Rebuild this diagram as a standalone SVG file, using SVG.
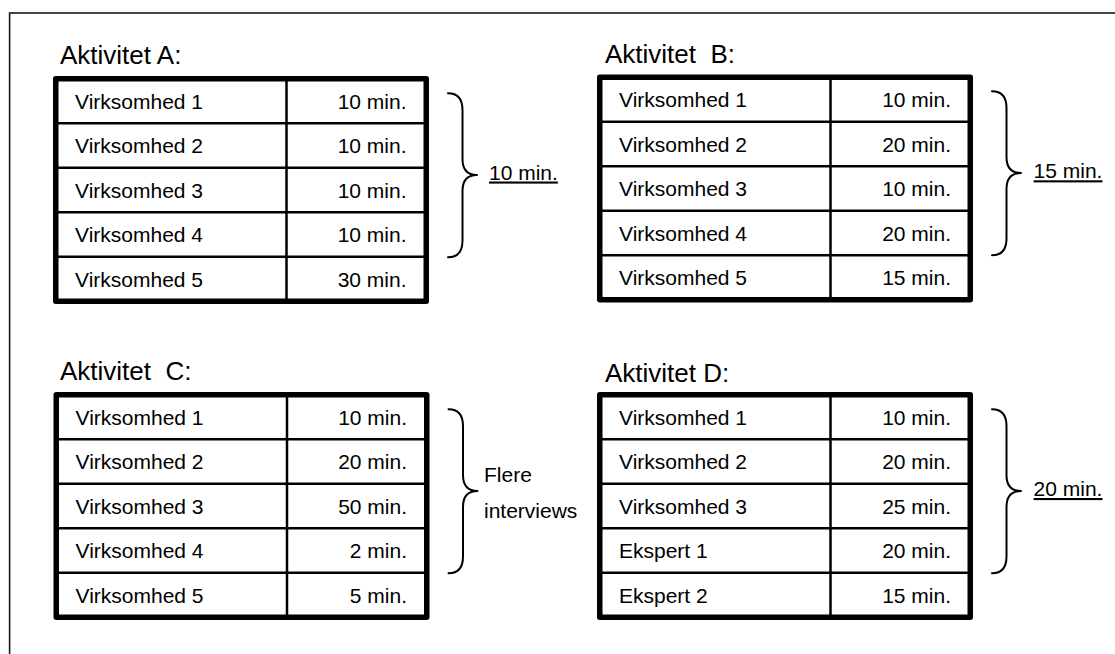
<svg xmlns="http://www.w3.org/2000/svg" width="1115" height="654" viewBox="0 0 1115 654">
  <defs>
    <style>
      text { font-family: "Liberation Sans", Arial, Helvetica, sans-serif; fill: #000; white-space: pre; }
      .title { font-size: 26px; }
      .cell { font-size: 21px; }
      .num { font-size: 21px; text-anchor: end; }
      .note { font-size: 21px; }
      .sum { font-size: 21px; text-decoration: underline; }
      .frame { fill: none; stroke: #1a1a1a; stroke-width: 1.6; }
      .outer { fill: #fff; stroke: #000; stroke-width: 5.5; stroke-linejoin: round; }
      .grid { stroke: #000; stroke-width: 2.5; fill: none; }
      .brace { fill: none; stroke: #000; stroke-width: 2; stroke-linecap: round; stroke-linejoin: round; }
    </style>
    <!-- empty 5-row, 2-column table frame, 376 x 228 -->
    <g id="tableFrame">
      <rect class="outer" x="2.75" y="2.75" width="370.5" height="222.5"/>
      <path class="grid" d="M233.5,2.75 V225.25 M2.75,47.25 H373.25 M2.75,91.75 H373.25 M2.75,136.25 H373.25 M2.75,180.75 H373.25"/>
    </g>
    <!-- right-hand curly brace spanning the first four rows -->
    <path id="braceShape" class="brace" d="M395,17.3 Q409.5,17.3 409.5,34 L409.5,83 Q409.5,99 424,99 Q409.5,99 409.5,115 L409.5,164.5 Q409.5,181.3 395,181.3"/>
  </defs>

  <rect class="frame" x="9.6" y="13" width="1200" height="700"/>

  <!-- Aktivitet A -->
  <g id="aktivitet-a">
    <text class="title" x="60" y="64">Aktivitet A:</text>
    <g transform="translate(53,76)">
      <use href="#tableFrame"/>
      <text class="cell" x="22" y="32.5">Virksomhed 1</text>
      <text class="cell" x="22" y="77">Virksomhed 2</text>
      <text class="cell" x="22" y="121.5">Virksomhed 3</text>
      <text class="cell" x="22" y="166">Virksomhed 4</text>
      <text class="cell" x="22" y="210.5">Virksomhed 5</text>
      <text class="num" x="353.5" y="32.5">10 min.</text>
      <text class="num" x="353.5" y="77">10 min.</text>
      <text class="num" x="353.5" y="121.5">10 min.</text>
      <text class="num" x="353.5" y="166">10 min.</text>
      <text class="num" x="353.5" y="210.5">30 min.</text>
    </g>
  </g>

  <!-- Aktivitet B -->
  <g id="aktivitet-b">
    <text class="title" x="605" y="63.3">Aktivitet  B:</text>
    <g transform="translate(597,74.5)">
      <use href="#tableFrame"/>
      <text class="cell" x="22" y="32.5">Virksomhed 1</text>
      <text class="cell" x="22" y="77">Virksomhed 2</text>
      <text class="cell" x="22" y="121.5">Virksomhed 3</text>
      <text class="cell" x="22" y="166">Virksomhed 4</text>
      <text class="cell" x="22" y="210.5">Virksomhed 5</text>
      <text class="num" x="354" y="32.5">10 min.</text>
      <text class="num" x="354" y="77">20 min.</text>
      <text class="num" x="354" y="121.5">10 min.</text>
      <text class="num" x="354" y="166">20 min.</text>
      <text class="num" x="354" y="210.5">15 min.</text>
    </g>
  </g>

  <!-- Aktivitet C -->
  <g id="aktivitet-c">
    <text class="title" x="60" y="380">Aktivitet  C:</text>
    <g transform="translate(53.5,392)">
      <use href="#tableFrame"/>
      <text class="cell" x="22" y="32.5">Virksomhed 1</text>
      <text class="cell" x="22" y="77">Virksomhed 2</text>
      <text class="cell" x="22" y="121.5">Virksomhed 3</text>
      <text class="cell" x="22" y="166">Virksomhed 4</text>
      <text class="cell" x="22" y="210.5">Virksomhed 5</text>
      <text class="num" x="353.5" y="32.5">10 min.</text>
      <text class="num" x="353.5" y="77">20 min.</text>
      <text class="num" x="353.5" y="121.5">50 min.</text>
      <text class="num" x="353.5" y="166">2 min.</text>
      <text class="num" x="353.5" y="210.5">5 min.</text>
    </g>
  </g>

  <!-- Aktivitet D -->
  <g id="aktivitet-d">
    <text class="title" x="605" y="381.7">Aktivitet D:</text>
    <g transform="translate(597,392)">
      <use href="#tableFrame"/>
      <text class="cell" x="22" y="32.5">Virksomhed 1</text>
      <text class="cell" x="22" y="77">Virksomhed 2</text>
      <text class="cell" x="22" y="121.5">Virksomhed 3</text>
      <text class="cell" x="22" y="166">Ekspert 1</text>
      <text class="cell" x="22" y="210.5">Ekspert 2</text>
      <text class="num" x="354" y="32.5">10 min.</text>
      <text class="num" x="354" y="77">20 min.</text>
      <text class="num" x="354" y="121.5">25 min.</text>
      <text class="num" x="354" y="166">20 min.</text>
      <text class="num" x="354" y="210.5">15 min.</text>
    </g>
  </g>

  <!-- braces with their summaries -->
  <g id="braces">
    <g id="brace-a" transform="translate(53,76)">
      <use href="#braceShape"/>
      <text class="sum" x="436" y="103.5">10 min.</text>
    </g>
    <g id="brace-b" transform="translate(597,74)">
      <use href="#braceShape"/>
      <text class="sum" x="436.6" y="104.3">15 min.</text>
    </g>
    <g id="brace-c" transform="translate(53.5,392)">
      <use href="#braceShape"/>
      <text class="note" x="430.5" y="90">Flere</text>
      <text class="note" x="430.5" y="126">interviews</text>
    </g>
    <g id="brace-d" transform="translate(597,392)">
      <use href="#braceShape"/>
      <text class="sum" x="436.6" y="104">20 min.</text>
    </g>
  </g>
</svg>
